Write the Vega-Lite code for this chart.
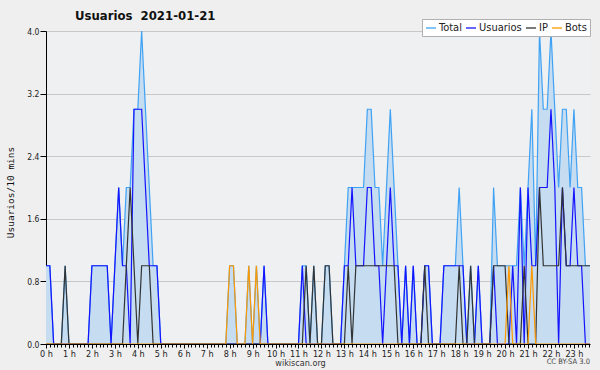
{
  "$schema": "https://vega.github.io/schema/vega-lite/v6.json",
  "width": 544,
  "height": 313,
  "autosize": {"type": "none"},
  "padding": {"left": 46, "top": 31, "right": 10, "bottom": 26},
  "background": "#efefef",
  "view": {"fill": "#eef0f2", "stroke": null},
  "config": {
    "font": "DejaVu Sans Condensed",
    "axis": {"zindex": 1}
  },
  "title": {
    "text": "Usuarios\u00a0 2021-01-21",
    "anchor": "start",
    "frame": "group",
    "dx": 29,
    "dy": 22,
    "offset": 8,
    "baseline": "alphabetic",
    "font": "DejaVu Sans Condensed",
    "fontSize": 13,
    "fontWeight": "bold",
    "color": "#111111"
  },
  "layer": [
    {
      "data": {
        "values": [
          {"m": 0, "Total": 1, "Usuarios": 1, "IP": 0, "Bots": 0},
          {"m": 10, "Total": 1, "Usuarios": 1, "IP": 0, "Bots": 0},
          {"m": 20, "Total": 0, "Usuarios": 0, "IP": 0, "Bots": 0},
          {"m": 30, "Total": 0, "Usuarios": 0, "IP": 0, "Bots": 0},
          {"m": 40, "Total": 0, "Usuarios": 0, "IP": 0, "Bots": 0},
          {"m": 50, "Total": 1, "Usuarios": 0, "IP": 1, "Bots": 0},
          {"m": 60, "Total": 0, "Usuarios": 0, "IP": 0, "Bots": 0},
          {"m": 70, "Total": 0, "Usuarios": 0, "IP": 0, "Bots": 0},
          {"m": 80, "Total": 0, "Usuarios": 0, "IP": 0, "Bots": 0},
          {"m": 90, "Total": 0, "Usuarios": 0, "IP": 0, "Bots": 0},
          {"m": 100, "Total": 0, "Usuarios": 0, "IP": 0, "Bots": 0},
          {"m": 110, "Total": 0, "Usuarios": 0, "IP": 0, "Bots": 0},
          {"m": 120, "Total": 1, "Usuarios": 1, "IP": 0, "Bots": 0},
          {"m": 130, "Total": 1, "Usuarios": 1, "IP": 0, "Bots": 0},
          {"m": 140, "Total": 1, "Usuarios": 1, "IP": 0, "Bots": 0},
          {"m": 150, "Total": 1, "Usuarios": 1, "IP": 0, "Bots": 0},
          {"m": 160, "Total": 1, "Usuarios": 1, "IP": 0, "Bots": 0},
          {"m": 170, "Total": 0, "Usuarios": 0, "IP": 0, "Bots": 0},
          {"m": 180, "Total": 1, "Usuarios": 1, "IP": 0, "Bots": 0},
          {"m": 190, "Total": 2, "Usuarios": 2, "IP": 0, "Bots": 0},
          {"m": 200, "Total": 1, "Usuarios": 1, "IP": 0, "Bots": 0},
          {"m": 210, "Total": 2, "Usuarios": 1, "IP": 1, "Bots": 0},
          {"m": 220, "Total": 2, "Usuarios": 0, "IP": 2, "Bots": 0},
          {"m": 230, "Total": 3, "Usuarios": 3, "IP": 1, "Bots": 0},
          {"m": 240, "Total": 3, "Usuarios": 3, "IP": 0, "Bots": 0},
          {"m": 250, "Total": 4, "Usuarios": 3, "IP": 1, "Bots": 0},
          {"m": 260, "Total": 3, "Usuarios": 2, "IP": 1, "Bots": 0},
          {"m": 270, "Total": 2, "Usuarios": 1, "IP": 1, "Bots": 0},
          {"m": 280, "Total": 1, "Usuarios": 1, "IP": 0, "Bots": 0},
          {"m": 290, "Total": 1, "Usuarios": 1, "IP": 0, "Bots": 0},
          {"m": 300, "Total": 0, "Usuarios": 0, "IP": 0, "Bots": 0},
          {"m": 310, "Total": 0, "Usuarios": 0, "IP": 0, "Bots": 0},
          {"m": 320, "Total": 0, "Usuarios": 0, "IP": 0, "Bots": 0},
          {"m": 330, "Total": 0, "Usuarios": 0, "IP": 0, "Bots": 0},
          {"m": 340, "Total": 0, "Usuarios": 0, "IP": 0, "Bots": 0},
          {"m": 350, "Total": 0, "Usuarios": 0, "IP": 0, "Bots": 0},
          {"m": 360, "Total": 0, "Usuarios": 0, "IP": 0, "Bots": 0},
          {"m": 370, "Total": 0, "Usuarios": 0, "IP": 0, "Bots": 0},
          {"m": 380, "Total": 0, "Usuarios": 0, "IP": 0, "Bots": 0},
          {"m": 390, "Total": 0, "Usuarios": 0, "IP": 0, "Bots": 0},
          {"m": 400, "Total": 0, "Usuarios": 0, "IP": 0, "Bots": 0},
          {"m": 410, "Total": 0, "Usuarios": 0, "IP": 0, "Bots": 0},
          {"m": 420, "Total": 0, "Usuarios": 0, "IP": 0, "Bots": 0},
          {"m": 430, "Total": 0, "Usuarios": 0, "IP": 0, "Bots": 0},
          {"m": 440, "Total": 0, "Usuarios": 0, "IP": 0, "Bots": 0},
          {"m": 450, "Total": 0, "Usuarios": 0, "IP": 0, "Bots": 0},
          {"m": 460, "Total": 0, "Usuarios": 0, "IP": 0, "Bots": 0},
          {"m": 470, "Total": 0, "Usuarios": 0, "IP": 0, "Bots": 0},
          {"m": 480, "Total": 1, "Usuarios": 0, "IP": 0, "Bots": 1},
          {"m": 490, "Total": 1, "Usuarios": 0, "IP": 0, "Bots": 1},
          {"m": 500, "Total": 0, "Usuarios": 0, "IP": 0, "Bots": 0},
          {"m": 510, "Total": 0, "Usuarios": 0, "IP": 0, "Bots": 0},
          {"m": 520, "Total": 0, "Usuarios": 0, "IP": 0, "Bots": 0},
          {"m": 530, "Total": 1, "Usuarios": 0, "IP": 0, "Bots": 1},
          {"m": 540, "Total": 0, "Usuarios": 0, "IP": 0, "Bots": 0},
          {"m": 550, "Total": 1, "Usuarios": 0, "IP": 0, "Bots": 1},
          {"m": 560, "Total": 0, "Usuarios": 0, "IP": 0, "Bots": 0},
          {"m": 570, "Total": 1, "Usuarios": 1, "IP": 0, "Bots": 0},
          {"m": 580, "Total": 0, "Usuarios": 0, "IP": 0, "Bots": 0},
          {"m": 590, "Total": 0, "Usuarios": 0, "IP": 0, "Bots": 0},
          {"m": 600, "Total": 0, "Usuarios": 0, "IP": 0, "Bots": 0},
          {"m": 610, "Total": 0, "Usuarios": 0, "IP": 0, "Bots": 0},
          {"m": 620, "Total": 0, "Usuarios": 0, "IP": 0, "Bots": 0},
          {"m": 630, "Total": 0, "Usuarios": 0, "IP": 0, "Bots": 0},
          {"m": 640, "Total": 0, "Usuarios": 0, "IP": 0, "Bots": 0},
          {"m": 650, "Total": 0, "Usuarios": 0, "IP": 0, "Bots": 0},
          {"m": 660, "Total": 0, "Usuarios": 0, "IP": 0, "Bots": 0},
          {"m": 670, "Total": 1, "Usuarios": 1, "IP": 0, "Bots": 0},
          {"m": 680, "Total": 1, "Usuarios": 0, "IP": 1, "Bots": 0},
          {"m": 690, "Total": 0, "Usuarios": 0, "IP": 0, "Bots": 0},
          {"m": 700, "Total": 1, "Usuarios": 0, "IP": 1, "Bots": 0},
          {"m": 710, "Total": 0, "Usuarios": 0, "IP": 0, "Bots": 0},
          {"m": 720, "Total": 0, "Usuarios": 0, "IP": 0, "Bots": 0},
          {"m": 730, "Total": 1, "Usuarios": 0, "IP": 1, "Bots": 0},
          {"m": 740, "Total": 1, "Usuarios": 0, "IP": 1, "Bots": 0},
          {"m": 750, "Total": 0, "Usuarios": 0, "IP": 0, "Bots": 0},
          {"m": 760, "Total": 0, "Usuarios": 0, "IP": 0, "Bots": 0},
          {"m": 770, "Total": 0, "Usuarios": 0, "IP": 0, "Bots": 0},
          {"m": 780, "Total": 1, "Usuarios": 1, "IP": 0, "Bots": 0},
          {"m": 790, "Total": 2, "Usuarios": 1, "IP": 1, "Bots": 0},
          {"m": 800, "Total": 2, "Usuarios": 2, "IP": 0, "Bots": 0},
          {"m": 810, "Total": 2, "Usuarios": 1, "IP": 1, "Bots": 0},
          {"m": 820, "Total": 2, "Usuarios": 1, "IP": 1, "Bots": 0},
          {"m": 830, "Total": 2, "Usuarios": 1, "IP": 1, "Bots": 0},
          {"m": 840, "Total": 3, "Usuarios": 2, "IP": 1, "Bots": 0},
          {"m": 850, "Total": 3, "Usuarios": 2, "IP": 1, "Bots": 0},
          {"m": 860, "Total": 2, "Usuarios": 1, "IP": 1, "Bots": 0},
          {"m": 870, "Total": 2, "Usuarios": 1, "IP": 1, "Bots": 0},
          {"m": 880, "Total": 1, "Usuarios": 0, "IP": 1, "Bots": 0},
          {"m": 890, "Total": 2, "Usuarios": 1, "IP": 1, "Bots": 0},
          {"m": 900, "Total": 3, "Usuarios": 2, "IP": 1, "Bots": 0},
          {"m": 910, "Total": 2, "Usuarios": 1, "IP": 1, "Bots": 0},
          {"m": 920, "Total": 1, "Usuarios": 1, "IP": 0, "Bots": 0},
          {"m": 930, "Total": 0, "Usuarios": 0, "IP": 0, "Bots": 0},
          {"m": 940, "Total": 1, "Usuarios": 1, "IP": 0, "Bots": 0},
          {"m": 950, "Total": 0, "Usuarios": 0, "IP": 0, "Bots": 0},
          {"m": 960, "Total": 1, "Usuarios": 1, "IP": 0, "Bots": 0},
          {"m": 970, "Total": 0, "Usuarios": 0, "IP": 0, "Bots": 0},
          {"m": 980, "Total": 0, "Usuarios": 0, "IP": 0, "Bots": 0},
          {"m": 990, "Total": 1, "Usuarios": 1, "IP": 1, "Bots": 0},
          {"m": 1000, "Total": 1, "Usuarios": 1, "IP": 0, "Bots": 0},
          {"m": 1010, "Total": 0, "Usuarios": 0, "IP": 0, "Bots": 0},
          {"m": 1020, "Total": 0, "Usuarios": 0, "IP": 0, "Bots": 0},
          {"m": 1030, "Total": 0, "Usuarios": 0, "IP": 0, "Bots": 0},
          {"m": 1040, "Total": 1, "Usuarios": 1, "IP": 0, "Bots": 0},
          {"m": 1050, "Total": 1, "Usuarios": 1, "IP": 0, "Bots": 0},
          {"m": 1060, "Total": 1, "Usuarios": 1, "IP": 0, "Bots": 0},
          {"m": 1070, "Total": 1, "Usuarios": 1, "IP": 0, "Bots": 0},
          {"m": 1080, "Total": 2, "Usuarios": 1, "IP": 1, "Bots": 0},
          {"m": 1090, "Total": 1, "Usuarios": 1, "IP": 0, "Bots": 0},
          {"m": 1100, "Total": 0, "Usuarios": 0, "IP": 0, "Bots": 0},
          {"m": 1110, "Total": 1, "Usuarios": 0, "IP": 1, "Bots": 0},
          {"m": 1120, "Total": 0, "Usuarios": 0, "IP": 0, "Bots": 0},
          {"m": 1130, "Total": 1, "Usuarios": 1, "IP": 0, "Bots": 0},
          {"m": 1140, "Total": 0, "Usuarios": 0, "IP": 0, "Bots": 0},
          {"m": 1150, "Total": 0, "Usuarios": 0, "IP": 0, "Bots": 0},
          {"m": 1160, "Total": 0, "Usuarios": 0, "IP": 0, "Bots": 0},
          {"m": 1170, "Total": 2, "Usuarios": 1, "IP": 1, "Bots": 0},
          {"m": 1180, "Total": 1, "Usuarios": 0, "IP": 1, "Bots": 0},
          {"m": 1190, "Total": 1, "Usuarios": 0, "IP": 1, "Bots": 0},
          {"m": 1200, "Total": 1, "Usuarios": 0, "IP": 1, "Bots": 0},
          {"m": 1210, "Total": 1, "Usuarios": 0, "IP": 0, "Bots": 1},
          {"m": 1220, "Total": 1, "Usuarios": 1, "IP": 0, "Bots": 0},
          {"m": 1230, "Total": 1, "Usuarios": 0, "IP": 0, "Bots": 0},
          {"m": 1240, "Total": 2, "Usuarios": 2, "IP": 0, "Bots": 0},
          {"m": 1250, "Total": 1, "Usuarios": 0, "IP": 1, "Bots": 0},
          {"m": 1260, "Total": 2, "Usuarios": 2, "IP": 0, "Bots": 0},
          {"m": 1270, "Total": 3, "Usuarios": 1, "IP": 0, "Bots": 1},
          {"m": 1280, "Total": 1, "Usuarios": 1, "IP": 0, "Bots": 0},
          {"m": 1290, "Total": 4, "Usuarios": 2, "IP": 2, "Bots": 0},
          {"m": 1300, "Total": 3, "Usuarios": 2, "IP": 1, "Bots": 0},
          {"m": 1310, "Total": 3, "Usuarios": 2, "IP": 1, "Bots": 0},
          {"m": 1320, "Total": 4, "Usuarios": 3, "IP": 1, "Bots": 0},
          {"m": 1330, "Total": 3, "Usuarios": 2, "IP": 1, "Bots": 0},
          {"m": 1340, "Total": 2, "Usuarios": 0, "IP": 1, "Bots": 0},
          {"m": 1350, "Total": 3, "Usuarios": 2, "IP": 2, "Bots": 0},
          {"m": 1360, "Total": 3, "Usuarios": 1, "IP": 1, "Bots": 0},
          {"m": 1370, "Total": 2, "Usuarios": 1, "IP": 1, "Bots": 0},
          {"m": 1380, "Total": 3, "Usuarios": 2, "IP": 1, "Bots": 0},
          {"m": 1390, "Total": 2, "Usuarios": 1, "IP": 1, "Bots": 0},
          {"m": 1400, "Total": 2, "Usuarios": 1, "IP": 1, "Bots": 0},
          {"m": 1410, "Total": 1, "Usuarios": 0, "IP": 1, "Bots": 0},
          {"m": 1420, "Total": 1, "Usuarios": 0, "IP": 1, "Bots": 0},
          {"m": 1430, "Total": 1, "Usuarios": 0, "IP": 1, "Bots": 0}
        ]
      },
      "transform": [
        {"fold": ["Total", "Usuarios", "IP", "Bots"], "as": ["serie", "valor"]}
      ],
      "encoding": {
        "x": {
          "field": "m",
          "type": "quantitative",
          "scale": {"domain": [0, 1422], "nice": false, "zero": false},
          "axis": {
            "title": "wikiscan.org",
            "titleFont": "DejaVu Sans Condensed",
            "titleFontSize": 9,
            "titleFontWeight": "normal",
            "titleColor": "#333333",
            "titleX": 254,
            "titleY": 18,
            "titleAlign": "center",
            "titleBaseline": "middle",
            "tickCount": 143,
            "grid": false,
            "domainColor": "#000000",
            "domainWidth": 1,
            "tickColor": "#000000",
            "tickSize": {"condition": {"test": "datum.value % 60 === 0", "value": 4}, "value": 3},
            "labelExpr": "datum.value % 60 === 0 ? (datum.value / 60) + ' h' : ''",
            "labelOverlap": false,
            "labelFlush": false,
            "labelFont": "DejaVu Sans Condensed",
            "labelFontSize": 9,
            "labelColor": "#222222",
            "labelPadding": 1
          }
        },
        "y": {
          "field": "valor",
          "type": "quantitative",
          "scale": {"domain": [0, 4], "nice": false},
          "axis": {
            "title": "Usuarios/10 mins",
            "titleFont": "DejaVu Sans Mono",
            "titleFontSize": 9.5,
            "titleFontWeight": "normal",
            "titleColor": "#111111",
            "titleAngle": 270,
            "titleX": -36,
            "titleY": 161,
            "titleAlign": "center",
            "titleBaseline": "middle",
            "values": [0, 0.2, 0.4, 0.6, 0.8, 1, 1.2, 1.4, 1.6, 1.8, 2, 2.2, 2.4, 2.6, 2.8, 3, 3.2, 3.4, 3.6, 3.8, 4],
            "labelExpr": "indexof([0, 0.8, 1.6, 2.4, 3.2, 4], datum.value) >= 0 ? format(datum.value, '.1f') : ''",
            "labelOverlap": false,
            "labelFont": "DejaVu Sans Condensed",
            "labelFontSize": 8.5,
            "labelColor": "#222222",
            "labelPadding": 1,
            "domainColor": "#000000",
            "tickColor": "#000000",
            "tickSize": {"condition": {"test": "indexof([0, 0.8, 1.6, 2.4, 3.2, 4], datum.value) >= 0", "value": 6}, "value": 3},
            "grid": true,
            "gridColor": "#c8c8c8",
            "gridOpacity": {"condition": {"test": "indexof([0.8, 1.6, 2.4, 3.2, 4], datum.value) >= 0", "value": 1}, "value": 0}
          }
        }
      },
      "layer": [
        {
          "transform": [{"filter": "datum.serie === 'Total'"}],
          "mark": {"type": "area", "fill": "#c6dcf0", "opacity": 1, "clip": true}
        },
        {
          "mark": {"type": "line", "strokeWidth": 1.2, "interpolate": "linear", "clip": true},
          "encoding": {
            "color": {
              "field": "serie",
              "type": "nominal",
              "scale": {
                "domain": ["Total", "Usuarios", "IP", "Bots"],
                "range": ["#3fa2f4", "#1414ff", "#333333", "#ff9900"]
              },
              "legend": {
                "title": null,
                "orient": "none",
                "legendX": 376,
                "legendY": -12,
                "direction": "horizontal",
                "fillColor": "#ffffff",
                "strokeColor": "#b0b0b0",
                "padding": 3,
                "symbolType": "stroke",
                "symbolSize": 100,
                "symbolStrokeWidth": 1.3,
                "labelFont": "DejaVu Sans Condensed",
                "labelFontSize": 11,
                "labelColor": "#222222",
                "labelOffset": 2,
                "columnPadding": 1
              }
            }
          }
        }
      ]
    },
    {
      "data": {"values": [{"t": "CC BY-SA 3.0"}]},
      "mark": {"type": "text", "align": "right", "baseline": "middle", "dy": 18, "fontSize": 7.5, "font": "DejaVu Sans Condensed", "color": "#444444"},
      "encoding": {
        "x": {"datum": 1422},
        "y": {"datum": 0},
        "text": {"field": "t", "type": "nominal"}
      }
    }
  ]
}
